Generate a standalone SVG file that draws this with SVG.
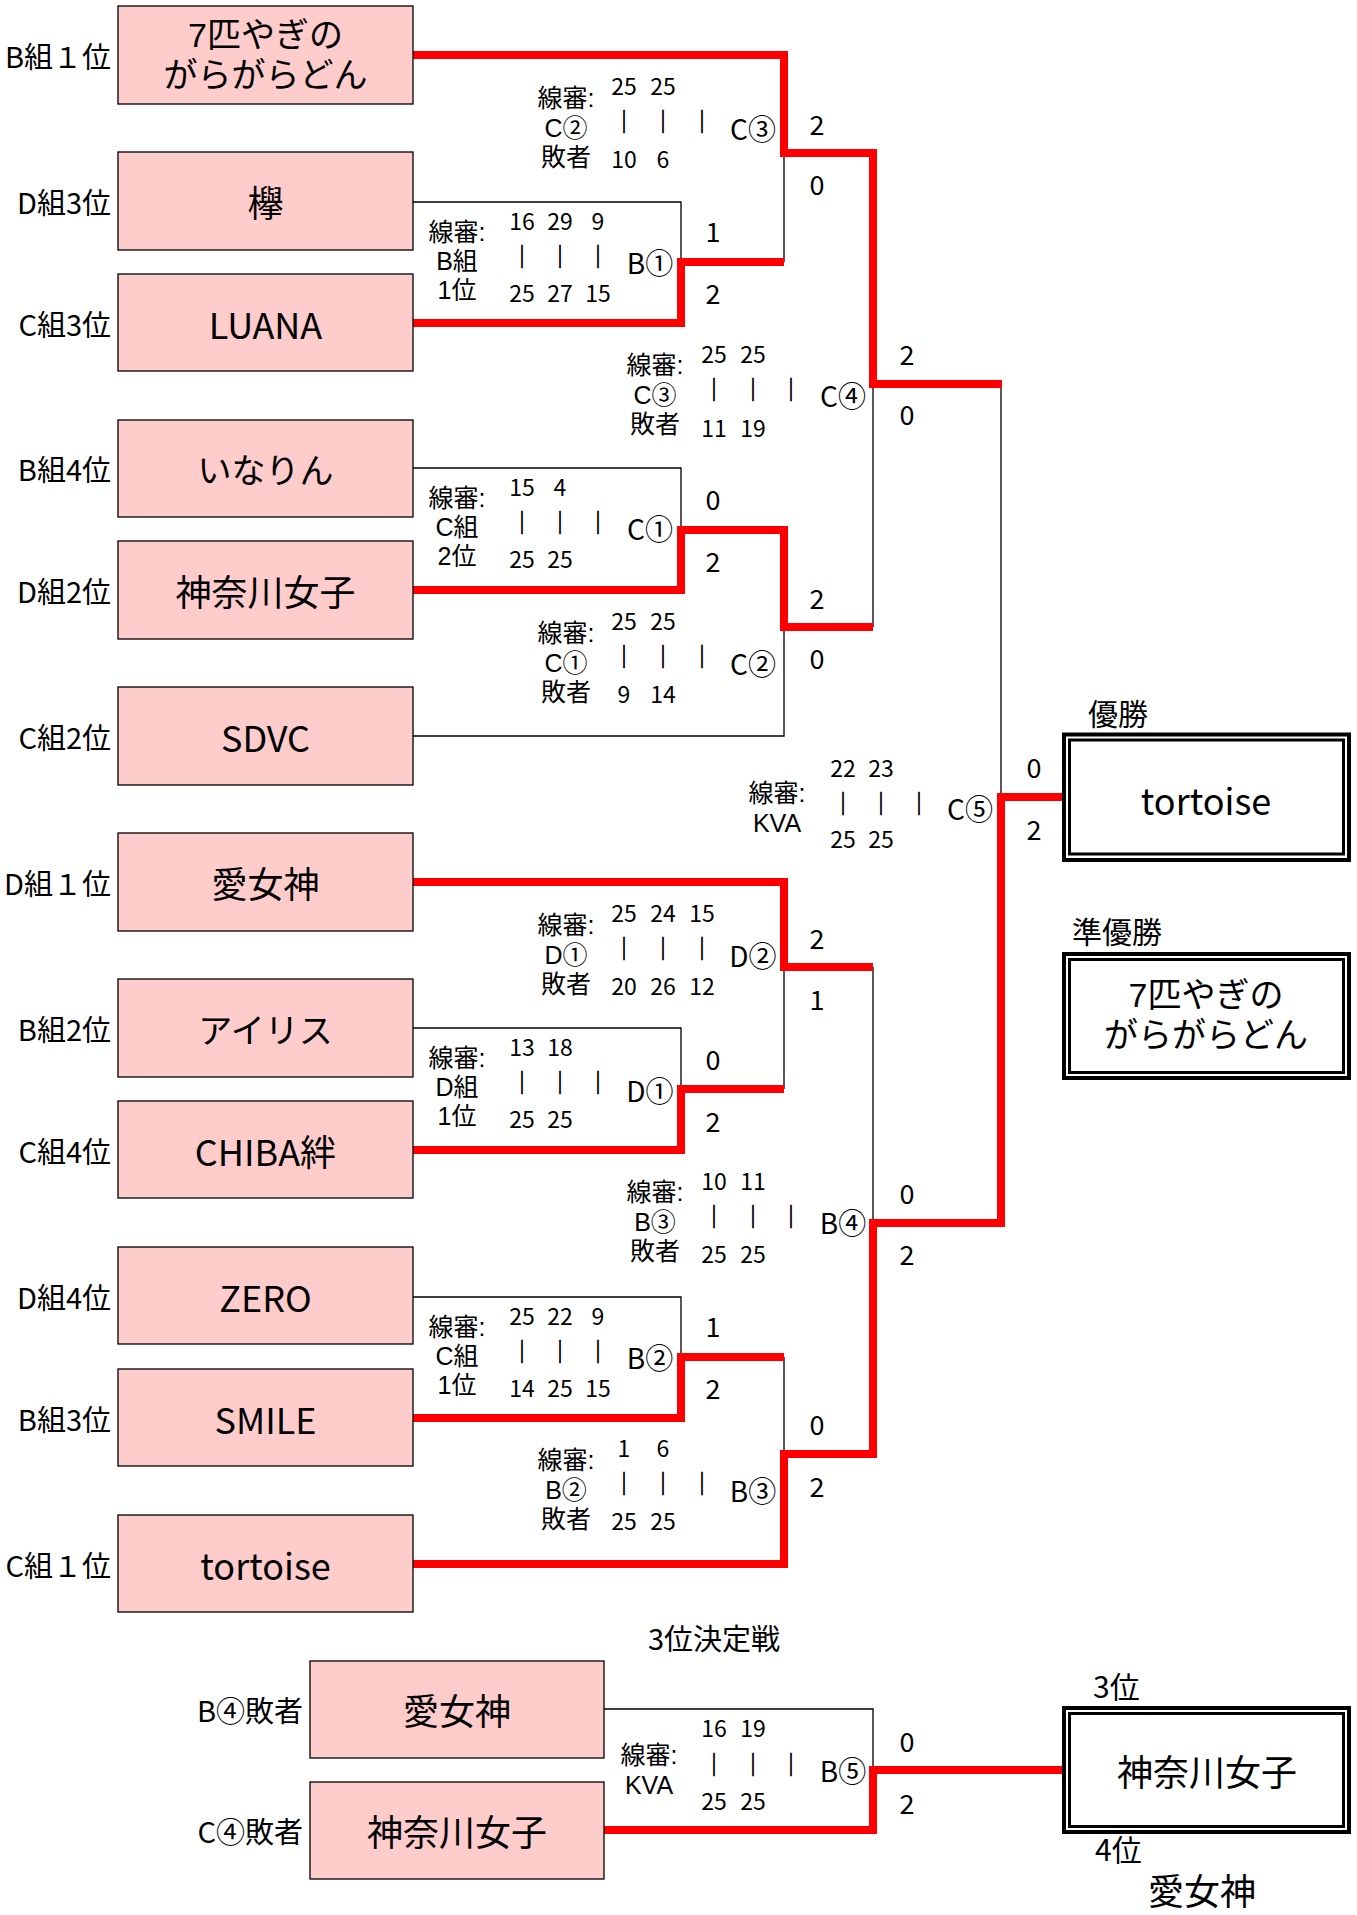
<svg xmlns="http://www.w3.org/2000/svg" width="1357" height="1915" viewBox="0 0 1357 1915">
<style>
text{font-family:"Noto Sans CJK JP","Noto Sans",sans-serif;fill:#000;dominant-baseline:central}
.team{fill:#FFCCCC;stroke:#000;stroke-width:1.3}
.tn{font-size:36px;text-anchor:middle}
.tn2{font-size:34px;text-anchor:middle;font-family:"Liberation Sans","Noto Sans CJK JP",sans-serif}
.lbl{font-size:29px;text-anchor:end}
.s{font-size:25px;text-anchor:middle;font-family:"Liberation Sans","Noto Sans CJK JP",sans-serif}
.n{font-size:23px;text-anchor:middle}
.bar{stroke:#000;stroke-width:0.7}
.cl{font-size:28px;text-anchor:middle}
.sc{font-size:27px;text-anchor:middle}
.ttl{font-size:30px}
.red{fill:none;stroke:#FF0000;stroke-width:8;stroke-linejoin:miter}
.blk{fill:none;stroke:#000;stroke-width:1.3}
.fo{fill:#fff;stroke:#000;stroke-width:4}
.fi{fill:none;stroke:#000;stroke-width:3}
</style>

<g id="connectors">
<path class="blk" d="M413,202H681V262"/>
<path class="blk" d="M784,153V262"/>
<path class="blk" d="M413,468H681V530"/>
<path class="blk" d="M873,384V627"/>
<path class="blk" d="M413,736H784V627"/>
<path class="blk" d="M1001,384V797"/>
<path class="blk" d="M413,1028H681V1089"/>
<path class="blk" d="M784,967V1089"/>
<path class="blk" d="M873,967V1223"/>
<path class="blk" d="M413,1297H681V1357"/>
<path class="blk" d="M784,1357V1454"/>
<path class="blk" d="M604,1709H873V1770"/>
<path class="red" d="M413,55H784V153H873V384H1002"/>
<path class="red" d="M413,323H681V262H784"/>
<path class="red" d="M413,590H681V530H784V627H873"/>
<path class="red" d="M413,882H784V967H873"/>
<path class="red" d="M413,1150H681V1089H784"/>
<path class="red" d="M413,1418H681V1357H784"/>
<path class="red" d="M413,1564H784V1454H873V1223H1001V797H1062"/>
<path class="red" d="M604,1830H873V1770H1062"/>
</g>

<g id="team-1"><rect class="team" x="118" y="6" width="295" height="98"/><text class="tn2" x="265.5" y="35">7匹やぎの<tspan x="265.5" dy="40">がらがらどん</tspan></text><text class="lbl" x="111" y="55">B組１位</text></g>
<g id="team-2"><rect class="team" x="118" y="152" width="295" height="98"/><text class="tn" x="265.5" y="201">欅</text><text class="lbl" x="111" y="201">D組3位</text></g>
<g id="team-3"><rect class="team" x="118" y="274" width="295" height="97"/><text class="tn" x="265.5" y="323">LUANA</text><text class="lbl" x="111" y="323">C組3位</text></g>
<g id="team-4"><rect class="team" x="118" y="420" width="295" height="97"/><text class="tn" x="265.5" y="468" style="font-size:34px">いなりん</text><text class="lbl" x="111" y="468">B組4位</text></g>
<g id="team-5"><rect class="team" x="118" y="541" width="295" height="98"/><text class="tn" x="265.5" y="590">神奈川女子</text><text class="lbl" x="111" y="590">D組2位</text></g>
<g id="team-6"><rect class="team" x="118" y="687" width="295" height="98"/><text class="tn" x="265.5" y="736">SDVC</text><text class="lbl" x="111" y="736">C組2位</text></g>
<g id="team-7"><rect class="team" x="118" y="833" width="295" height="98"/><text class="tn" x="265.5" y="882">愛女神</text><text class="lbl" x="111" y="882">D組１位</text></g>
<g id="team-8"><rect class="team" x="118" y="979" width="295" height="98"/><text class="tn" x="265.5" y="1028" style="font-size:34px">アイリス</text><text class="lbl" x="111" y="1028">B組2位</text></g>
<g id="team-9"><rect class="team" x="118" y="1101" width="295" height="97"/><text class="tn" x="265.5" y="1150">CHIBA絆</text><text class="lbl" x="111" y="1150">C組4位</text></g>
<g id="team-10"><rect class="team" x="118" y="1247" width="295" height="97"/><text class="tn" x="265.5" y="1296">ZERO</text><text class="lbl" x="111" y="1296">D組4位</text></g>
<g id="team-11"><rect class="team" x="118" y="1369" width="295" height="97"/><text class="tn" x="265.5" y="1418">SMILE</text><text class="lbl" x="111" y="1418">B組3位</text></g>
<g id="team-12"><rect class="team" x="118" y="1515" width="295" height="97"/><text class="tn" x="265.5" y="1564">tortoise</text><text class="lbl" x="111" y="1564">C組１位</text></g>
<g id="third-1"><rect class="team" x="310" y="1661" width="294" height="97"/><text class="tn" x="457" y="1709">愛女神</text><text class="lbl" x="303" y="1709">B④敗者</text></g>
<g id="third-2"><rect class="team" x="310" y="1782" width="294" height="97"/><text class="tn" x="457" y="1830">神奈川女子</text><text class="lbl" x="303" y="1830">C④敗者</text></g>

<g id="match-B1">
<text class="s" x="457" y="232">線審:<tspan x="457" dy="29">B組</tspan><tspan x="457" dy="29">1位</tspan></text>
<text class="n" x="522" y="220">16<tspan class="bar" x="522" dy="35">｜</tspan><tspan x="522" dy="37">25</tspan></text>
<text class="n" x="560" y="220">29<tspan class="bar" x="560" dy="35">｜</tspan><tspan x="560" dy="37">27</tspan></text>
<text class="n" x="598" y="220">9<tspan class="bar" x="598" dy="35">｜</tspan><tspan x="598" dy="37">15</tspan></text>
<text class="cl" x="650" y="262">B①</text>
<text class="sc" x="713" y="230">1</text><text class="sc" x="713" y="292">2</text>
</g>
<g id="match-C1">
<text class="s" x="457" y="498">線審:<tspan x="457" dy="29">C組</tspan><tspan x="457" dy="29">2位</tspan></text>
<text class="n" x="522" y="486">15<tspan class="bar" x="522" dy="35">｜</tspan><tspan x="522" dy="37">25</tspan></text>
<text class="n" x="560" y="486">4<tspan class="bar" x="560" dy="35">｜</tspan><tspan x="560" dy="37">25</tspan></text>
<text class="n bar" x="598" y="521">｜</text>
<text class="cl" x="650" y="528">C①</text>
<text class="sc" x="713" y="498">0</text><text class="sc" x="713" y="560">2</text>
</g>
<g id="match-D1">
<text class="s" x="457" y="1058">線審:<tspan x="457" dy="29">D組</tspan><tspan x="457" dy="29">1位</tspan></text>
<text class="n" x="522" y="1046">13<tspan class="bar" x="522" dy="35">｜</tspan><tspan x="522" dy="37">25</tspan></text>
<text class="n" x="560" y="1046">18<tspan class="bar" x="560" dy="35">｜</tspan><tspan x="560" dy="37">25</tspan></text>
<text class="n bar" x="598" y="1081">｜</text>
<text class="cl" x="650" y="1090">D①</text>
<text class="sc" x="713" y="1058">0</text><text class="sc" x="713" y="1120">2</text>
</g>
<g id="match-B2">
<text class="s" x="457" y="1327">線審:<tspan x="457" dy="29">C組</tspan><tspan x="457" dy="29">1位</tspan></text>
<text class="n" x="522" y="1315">25<tspan class="bar" x="522" dy="35">｜</tspan><tspan x="522" dy="37">14</tspan></text>
<text class="n" x="560" y="1315">22<tspan class="bar" x="560" dy="35">｜</tspan><tspan x="560" dy="37">25</tspan></text>
<text class="n" x="598" y="1315">9<tspan class="bar" x="598" dy="35">｜</tspan><tspan x="598" dy="37">15</tspan></text>
<text class="cl" x="650" y="1357">B②</text>
<text class="sc" x="713" y="1325">1</text><text class="sc" x="713" y="1387">2</text>
</g>

<g id="match-C3">
<text class="s" x="566" y="98">線審:<tspan x="566" dy="30">C②</tspan><tspan x="566" dy="29">敗者</tspan></text>
<text class="n" x="624" y="85">25<tspan class="bar" x="624" dy="35">｜</tspan><tspan x="624" dy="38">10</tspan></text>
<text class="n" x="663" y="85">25<tspan class="bar" x="663" dy="35">｜</tspan><tspan x="663" dy="38">6</tspan></text>
<text class="n bar" x="702" y="120">｜</text>
<text class="cl" x="753" y="128">C③</text>
<text class="sc" x="817" y="123">2</text><text class="sc" x="817" y="183">0</text>
</g>
<g id="match-C2">
<text class="s" x="566" y="633">線審:<tspan x="566" dy="30">C①</tspan><tspan x="566" dy="29">敗者</tspan></text>
<text class="n" x="624" y="620">25<tspan class="bar" x="624" dy="35">｜</tspan><tspan x="624" dy="38">9</tspan></text>
<text class="n" x="663" y="620">25<tspan class="bar" x="663" dy="35">｜</tspan><tspan x="663" dy="38">14</tspan></text>
<text class="n bar" x="702" y="655">｜</text>
<text class="cl" x="753" y="663">C②</text>
<text class="sc" x="817" y="597">2</text><text class="sc" x="817" y="657">0</text>
</g>
<g id="match-D2">
<text class="s" x="566" y="925">線審:<tspan x="566" dy="30">D①</tspan><tspan x="566" dy="29">敗者</tspan></text>
<text class="n" x="624" y="912">25<tspan class="bar" x="624" dy="35">｜</tspan><tspan x="624" dy="38">20</tspan></text>
<text class="n" x="663" y="912">24<tspan class="bar" x="663" dy="35">｜</tspan><tspan x="663" dy="38">26</tspan></text>
<text class="n" x="702" y="912">15<tspan class="bar" x="702" dy="35">｜</tspan><tspan x="702" dy="38">12</tspan></text>
<text class="cl" x="753" y="955">D②</text>
<text class="sc" x="817" y="937">2</text><text class="sc" x="817" y="998">1</text>
</g>
<g id="match-B3">
<text class="s" x="566" y="1460">線審:<tspan x="566" dy="30">B②</tspan><tspan x="566" dy="29">敗者</tspan></text>
<text class="n" x="624" y="1447">1<tspan class="bar" x="624" dy="35">｜</tspan><tspan x="624" dy="38">25</tspan></text>
<text class="n" x="663" y="1447">6<tspan class="bar" x="663" dy="35">｜</tspan><tspan x="663" dy="38">25</tspan></text>
<text class="n bar" x="702" y="1482">｜</text>
<text class="cl" x="753" y="1490">B③</text>
<text class="sc" x="817" y="1423">0</text><text class="sc" x="817" y="1485">2</text>
</g>
<g id="match-C4">
<text class="s" x="655" y="365">線審:<tspan x="655" dy="30">C③</tspan><tspan x="655" dy="29">敗者</tspan></text>
<text class="n" x="714" y="353">25<tspan class="bar" x="714" dy="35">｜</tspan><tspan x="714" dy="39">11</tspan></text>
<text class="n" x="753" y="353">25<tspan class="bar" x="753" dy="35">｜</tspan><tspan x="753" dy="39">19</tspan></text>
<text class="n bar" x="791" y="388">｜</text>
<text class="cl" x="843" y="395">C④</text>
<text class="sc" x="907" y="353">2</text><text class="sc" x="907" y="413">0</text>
</g>
<g id="match-B4">
<text class="s" x="655" y="1192">線審:<tspan x="655" dy="30">B③</tspan><tspan x="655" dy="29">敗者</tspan></text>
<text class="n" x="714" y="1180">10<tspan class="bar" x="714" dy="35">｜</tspan><tspan x="714" dy="38">25</tspan></text>
<text class="n" x="753" y="1180">11<tspan class="bar" x="753" dy="35">｜</tspan><tspan x="753" dy="38">25</tspan></text>
<text class="n bar" x="791" y="1215">｜</text>
<text class="cl" x="843" y="1222">B④</text>
<text class="sc" x="907" y="1192">0</text><text class="sc" x="907" y="1253">2</text>
</g>
<g id="match-C5">
<text class="s" x="777" y="793">線審:<tspan x="777" dy="30">KVA</tspan></text>
<text class="n" x="843" y="767">22<tspan class="bar" x="843" dy="35">｜</tspan><tspan x="843" dy="36">25</tspan></text>
<text class="n" x="881" y="767">23<tspan class="bar" x="881" dy="35">｜</tspan><tspan x="881" dy="36">25</tspan></text>
<text class="n bar" x="919" y="802">｜</text>
<text class="cl" x="970" y="808">C⑤</text>
<text class="sc" x="1034" y="766">0</text><text class="sc" x="1034" y="828">2</text>
</g>
<g id="match-B5">
<text x="714" y="1637" text-anchor="middle" style="font-size:29px">3位決定戦</text>
<text class="s" x="649" y="1755">線審:<tspan x="649" dy="30">KVA</tspan></text>
<text class="n" x="714" y="1727">16<tspan class="bar" x="714" dy="36">｜</tspan><tspan x="714" dy="37">25</tspan></text>
<text class="n" x="753" y="1727">19<tspan class="bar" x="753" dy="36">｜</tspan><tspan x="753" dy="37">25</tspan></text>
<text class="n bar" x="791" y="1763">｜</text>
<text class="cl" x="843" y="1770">B⑤</text>
<text class="sc" x="907" y="1740">0</text><text class="sc" x="907" y="1802">2</text>
</g>

<g id="champion">
<text class="ttl" x="1088" y="712">優勝</text>
<rect class="fo" x="1064" y="734.5" width="285" height="125.5"/>
<rect class="fi" x="1069.5" y="740" width="274" height="114"/>
<text class="tn" x="1206" y="799">tortoise</text>
</g>
<g id="runner-up">
<text class="ttl" x="1072" y="930">準優勝</text>
<rect class="fo" x="1064" y="954" width="285" height="124"/>
<rect class="fi" x="1069.5" y="959.5" width="274" height="113"/>
<text class="tn2" x="1206" y="995">7匹やぎの<tspan x="1206" dy="40">がらがらどん</tspan></text>
</g>
<g id="third-place">
<text class="ttl" x="1093" y="1685">3位</text>
<rect class="fo" x="1064" y="1708" width="285" height="124"/>
<rect class="fi" x="1069.5" y="1713.5" width="274" height="113"/>
<text class="tn" x="1207" y="1770">神奈川女子</text>
<text class="ttl" x="1095" y="1848">4位</text>
<text class="tn" x="1202" y="1889">愛女神</text>
</g>
</svg>
